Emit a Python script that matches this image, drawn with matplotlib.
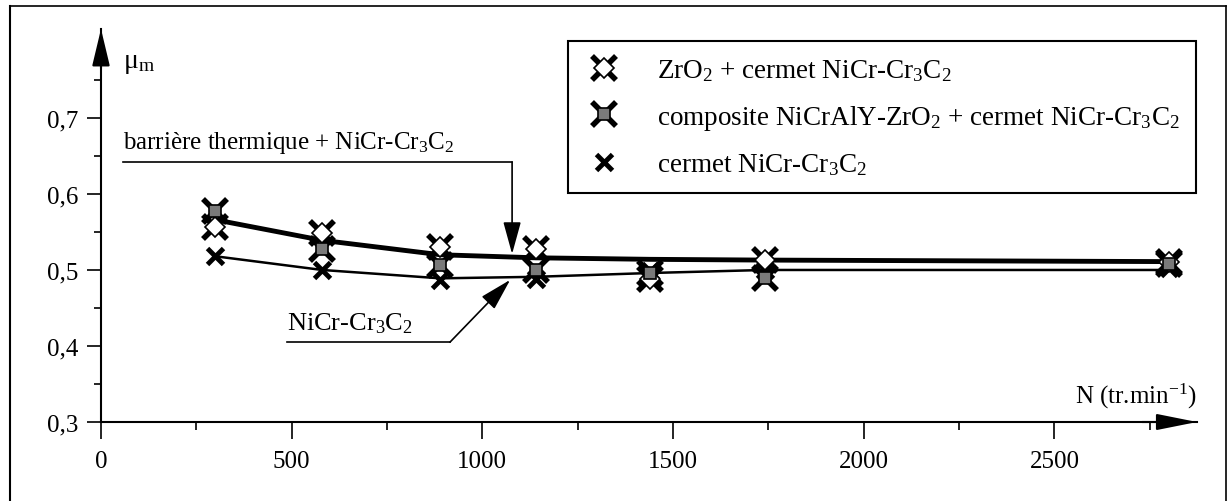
import matplotlib
matplotlib.use("Agg")
import matplotlib.pyplot as plt
from matplotlib.legend_handler import HandlerTuple
from matplotlib.lines import Line2D
from matplotlib.ticker import FixedLocator, FuncFormatter

plt.rcParams['font.family'] = ['Liberation Serif', 'DejaVu Serif']
plt.rcParams['mathtext.fontset'] = 'custom'
plt.rcParams['mathtext.rm'] = 'Liberation Serif'
plt.rcParams['mathtext.it'] = 'Liberation Serif:italic'
plt.rcParams['mathtext.bf'] = 'Liberation Serif:bold'

# vitesses de rotation (tr/min) et coefficients de frottement moyens
vitesse = [300, 580, 890, 1140, 1440, 1740, 2800]
mu_zro2 = [0.556, 0.548, 0.530, 0.528, 0.488, 0.513, 0.510]
mu_composite = [0.578, 0.527, 0.507, 0.500, 0.496, 0.490, 0.508]
mu_cermet = [0.518, 0.500, 0.487, 0.488, 0.498, 0.500, 0.503]

# courbes de tendance
courbe_barriere = [0.566, 0.539, 0.520, 0.516, 0.514, 0.513, 0.511]
courbe_cermet = [0.518, 0.500, 0.489, 0.491, 0.496, 0.500, 0.500]

labels_legende = [
    "ZrO$_2$ + cermet NiCr-Cr$_3$C$_2$",
    "composite NiCrAlY-ZrO$_2$ + cermet NiCr-Cr$_3$C$_2$",
    "cermet NiCr-Cr$_3$C$_2$",
]

W, H = 1228, 502
fig = plt.figure(figsize=(W / 100, H / 100), dpi=100)
ax = fig.add_axes([101 / W, 79 / H, (1197 - 101) / W, (472 - 79) / H])
ax.set_xlim(0, 2874)
ax.set_ylim(0.3, 0.817)

# axes avec fleches
for s in ['top', 'right']:
    ax.spines[s].set_visible(False)
for s in ['left', 'bottom']:
    ax.spines[s].set_linewidth(1.5)
ax.annotate('', xy=(1, 0), xycoords='axes fraction', xytext=(0.95, 0),
            arrowprops=dict(arrowstyle='-|>,head_length=2.5,head_width=0.5',
                            color='black', lw=1.5, shrinkA=0, shrinkB=0,
                            mutation_scale=10), annotation_clip=False)
ax.annotate('', xy=(0, 1), xycoords='axes fraction', xytext=(0, 0.9),
            arrowprops=dict(arrowstyle='-|>,head_length=2.3,head_width=0.55',
                            color='black', lw=1.5, shrinkA=0, shrinkB=0,
                            mutation_scale=10), annotation_clip=False)

ax.set_xticks([0, 500, 1000, 1500, 2000, 2500])
ax.xaxis.set_minor_locator(FixedLocator([250, 750, 1250, 1750, 2250, 2750]))
ax.set_yticks([0.3, 0.4, 0.5, 0.6, 0.7])
ax.yaxis.set_minor_locator(FixedLocator([0.35, 0.45, 0.55, 0.65, 0.75]))
ax.yaxis.set_major_formatter(FuncFormatter(lambda v, p: f"{v:.1f}".replace('.', ',')))
ax.tick_params(axis='x', which='major', length=12, width=1.2, pad=8, labelsize=18)
ax.tick_params(axis='x', which='minor', length=6, width=1.2)
ax.tick_params(axis='y', which='major', length=10, width=1.2, pad=6, labelsize=18)
ax.tick_params(axis='y', which='minor', length=5, width=1.2)

# courbes
ax.plot(vitesse, courbe_barriere, color='black', lw=3.5, zorder=2)
ax.plot(vitesse, courbe_cermet, color='black', lw=1.8, zorder=2)

# marqueurs
z1, = ax.plot(vitesse, mu_zro2, ls='none', marker='x', ms=17, mew=4, color='black', zorder=3)
z2, = ax.plot(vitesse, mu_zro2, ls='none', marker='D', ms=10, mfc='white', mec='black', mew=1.2, zorder=4)
c1, = ax.plot(vitesse, mu_composite, ls='none', marker='x', ms=17, mew=4, color='black', zorder=3)
c2, = ax.plot(vitesse, mu_composite, ls='none', marker='s', ms=9, mfc='#7a7a7a', mec='black', mew=1.2, zorder=4)
m1, = ax.plot(vitesse, mu_cermet, ls='none', marker='x', ms=11, mew=3.5, color='black', zorder=3)

# annotations
ax.text(58, 0.660, "barrière thermique + NiCr-Cr$_3$C$_2$", fontsize=18, va='baseline')
ax.plot([58, 1078], [0.642, 0.642], color='black', lw=1.2)
ax.annotate('', xy=(1078, 0.521), xytext=(1078, 0.642),
            arrowprops=dict(arrowstyle='-|>,head_length=2.0,head_width=0.55',
                            color='black', lw=1.2, shrinkA=0, shrinkB=0, mutation_scale=10))

ax.text(488, 0.422, "NiCr-Cr$_3$C$_2$", fontsize=19, va='baseline')
ax.plot([488, 915], [0.405, 0.405], color='black', lw=1.2)
ax.annotate('', xy=(1073, 0.487), xytext=(915, 0.405),
            arrowprops=dict(arrowstyle='-|>,head_length=2.0,head_width=0.55',
                            color='black', lw=1.2, shrinkA=0, shrinkB=0, mutation_scale=10))

ax.text(58, 0.767, "μ$_\\mathrm{m}$", fontsize=20, va='baseline')
ax.text(2874, 0.326, "N (tr.min$^{-1}$)", fontsize=18, va='baseline', ha='right')

# legende
leg = fig.legend(handles=[(z1, z2), (c1, c2), m1], labels=labels_legende,
                 handler_map={tuple: HandlerTuple(ndivide=1, pad=0)},
                 loc='upper left', bbox_to_anchor=(568 / W, 1 - 42 / H),
                 borderaxespad=0, fontsize=19.5, frameon=True, fancybox=False,
                 edgecolor='black', framealpha=1, borderpad=0.6,
                 handlelength=1.45, handletextpad=1.25, labelspacing=0.72)
leg.get_frame().set_linewidth(1.5)

# cadre exterieur
fig.add_artist(Line2D([10 / W, 10 / W], [0, 1 - 7 / H], transform=fig.transFigure, color='black', lw=1.5))
fig.add_artist(Line2D([10 / W, 1226 / W], [1 - 7 / H, 1 - 7 / H], transform=fig.transFigure, color='black', lw=1.2))
fig.add_artist(Line2D([1226 / W, 1226 / W], [0, 1 - 7 / H], transform=fig.transFigure, color='black', lw=1.2))

fig.savefig("out.png", dpi=100)
